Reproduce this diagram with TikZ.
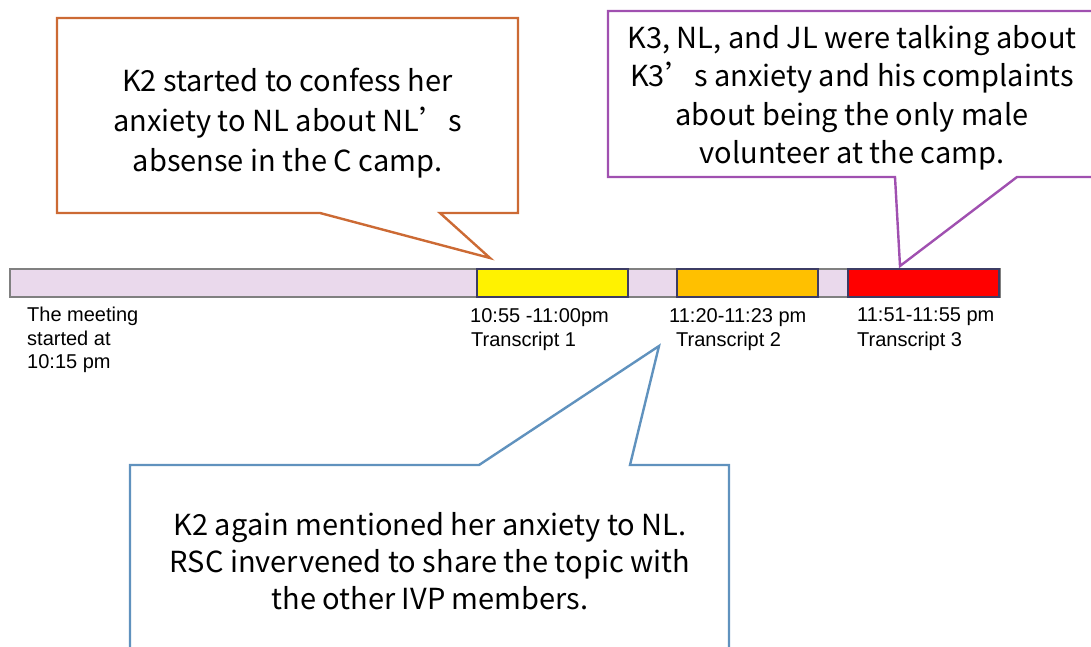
\documentclass[tikz,border=0pt]{standalone}
\usepackage{fontspec}
\setmainfont{Liberation Sans}
\newfontfamily\cjk{Noto Sans CJK JP}
\newcommand{\wideapos}{{\addfontfeatures{RawFeature=+fwid}’}}
\definecolor{calloutorange}{RGB}{204,106,52}
\definecolor{calloutpurple}{RGB}{160,80,176}
\definecolor{calloutblue}{RGB}{96,146,190}
\definecolor{barpink}{RGB}{234,217,236}
\definecolor{bargray}{RGB}{128,128,128}
\definecolor{segnavy}{RGB}{60,60,100}
\definecolor{segorange}{RGB}{255,192,0}
\begin{document}
\begin{tikzpicture}[x=1pt,y=-1pt,
  barbox/.style={draw=bargray, fill=barpink, line width=2.2pt, inner sep=0pt, anchor=north west},
  segbox/.style={draw=segnavy, line width=2.2pt, inner sep=0pt, anchor=north west, minimum height=28pt},
  timelabel/.style={inner sep=0pt, anchor=north west, align=left, font=\fontsize{20}{24.5}\selectfont},
  callout/.style={line width=2.4pt, fill=white, line join=miter},
  callouttext/.style={inner sep=0pt, align=center, font=\cjk\fontsize{29}{40}\selectfont}
]
\useasboundingbox (0,0) rectangle (1091,646);
\clip (0,0) rectangle (1091,646);

% timeline bar
\node[barbox, minimum width=990pt, minimum height=28pt] (bar) at (9,268) {};
\node[segbox, fill=yellow, minimum width=151pt] (seg1) at (476,268) {};
\node[segbox, fill=segorange, minimum width=141pt] (seg2) at (676,268) {};
\node[segbox, fill=red, minimum width=151pt] (seg3) at (847,268) {};

% labels
\node[timelabel, font=\fontsize{20}{23.5}\selectfont] (start) at (27,307) {The meeting\\started at\\10:15 pm};
\node[timelabel] (lab1) at (470,308) {10:55 -11:00pm\\\hspace*{1pt}Transcript 1};
\node[timelabel] (lab2) at (669,308) {11:20-11:23 pm\\\hspace*{7pt}Transcript 2};
\node[timelabel] (lab3) at (857,308) {11:51-11:55 pm\\Transcript 3};

% pointer tips
\coordinate (tip1) at ([shift={(14,-10)}]seg1.north west);
\coordinate (tip2) at ([shift={(-10,-5)}]lab2.south west);
\coordinate (tip3) at ([shift={(53,-2)}]seg3.north west);

% orange callout
\draw[callout, draw=calloutorange] (57,18) -- (518,18) -- (518,213) -- (440,213) -- (tip1) -- (320,213) -- (57,213) -- cycle;
\node[callouttext] (c1) at (287.5,123) {K2 started to confess her\\anxiety to NL about NL\wideapos s\\absense in the C camp.};

% purple callout
\draw[callout, draw=calloutpurple] (608,11) -- (1110,11) -- (1110,177) -- (1017,177) -- (tip3) -- (895,177) -- (608,177) -- cycle;
\node[callouttext, font=\cjk\fontsize{29}{38.5}\selectfont] (c2) at (852,98) {K3, NL, and JL were talking about\\K3\wideapos s anxiety and his complaints\\about being the only male\\volunteer at the camp.};

% blue callout
\draw[callout, draw=calloutblue] (130,670) -- (130,465) -- (479,465) -- (tip2) -- (630,465) -- (729,465) -- (729,670);
\node[callouttext, font=\cjk\fontsize{29}{37}\selectfont] (c3) at (430,561) {K2 again mentioned her anxiety to NL.\\RSC invervened to share the topic with\\the other IVP members.};
\end{tikzpicture}
\end{document}
